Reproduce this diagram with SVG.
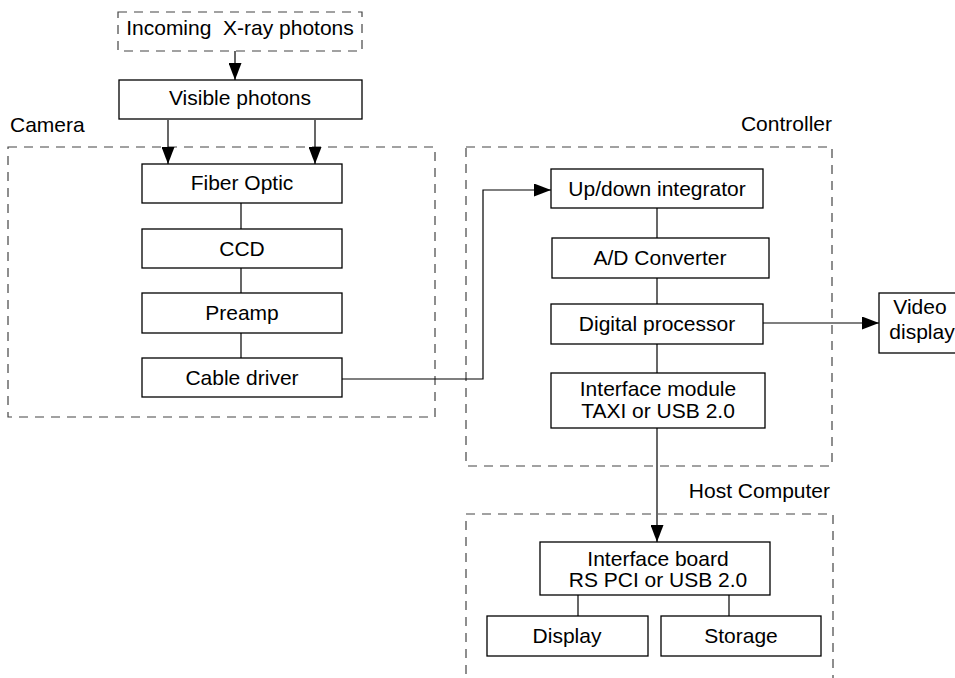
<svg xmlns="http://www.w3.org/2000/svg" width="955" height="678" viewBox="0 0 955 678">
<style>
  .box { fill: #fff; stroke: #000; stroke-width: 1.3; }
  .grp { fill: none; stroke: #444; stroke-width: 1.2; stroke-dasharray: 9 7; }
  .t { font-family: "Liberation Sans", Arial, sans-serif; font-size: 21px; fill: #000; text-anchor: middle; }
  .lbl { font-family: "Liberation Sans", Arial, sans-serif; font-size: 21px; fill: #000; }
  .c { fill: none; stroke: #000; stroke-width: 1.2; }
  .ca { fill: none; stroke: #000; stroke-width: 1.2; marker-end: url(#ah); }
</style>
<defs>
  <marker id="ah" markerWidth="17" markerHeight="13" refX="17" refY="6.5" orient="auto" markerUnits="userSpaceOnUse">
    <path d="M0,0 L17,6.5 L0,13 Z" fill="#000"/>
  </marker>
</defs>
<rect width="955" height="678" fill="#fff"/>

<g id="groups">
  <rect id="camera-group" class="grp" x="8" y="147" width="427" height="270"/>
  <text class="lbl" x="10" y="132">Camera</text>
  <rect id="controller-group" class="grp" x="466" y="147" width="366" height="319"/>
  <text class="lbl" x="832" y="131" text-anchor="end">Controller</text>
  <path id="host-group" class="grp" d="M466,690 L466,514 L833,514 L833,690"/>
  <text class="lbl" x="830" y="498" text-anchor="end">Host Computer</text>
</g>

<g id="connectors">
  <path class="ca" d="M235,51 L235,80"/>
  <path class="ca" d="M168,120 L168,164"/>
  <path class="ca" d="M315,120 L315,164"/>
  <path class="c" d="M241,203 L241,229"/>
  <path class="c" d="M241,268 L241,293"/>
  <path class="c" d="M241,333 L241,358"/>
  <path class="ca" d="M342,379 L483,379 L483,190 L551,190"/>
  <path class="c" d="M657,208 L657,238"/>
  <path class="c" d="M657,278 L657,304"/>
  <path class="c" d="M657,344 L657,373"/>
  <path class="ca" d="M763,323 L879,323"/>
  <path class="ca" d="M657,428 L657,542"/>
  <path class="c" d="M578,595 L578,616"/>
  <path class="c" d="M729,595 L729,616"/>
</g>

<g id="incoming">
  <rect class="grp" x="118" y="12" width="244" height="39"/>
  <text class="t" x="240" y="35" xml:space="preserve">Incoming  X-ray photons</text>
</g>
<g id="visible">
  <rect class="box" x="119" y="80" width="243" height="39"/>
  <text class="t" x="240" y="105">Visible photons</text>
</g>
<g id="fiber">
  <rect class="box" x="142" y="164" width="200" height="39"/>
  <text class="t" x="242" y="190">Fiber Optic</text>
</g>
<g id="ccd">
  <rect class="box" x="142" y="229" width="200" height="39"/>
  <text class="t" x="242" y="256">CCD</text>
</g>
<g id="preamp">
  <rect class="box" x="142" y="293" width="200" height="40"/>
  <text class="t" x="242" y="320">Preamp</text>
</g>
<g id="cable">
  <rect class="box" x="142" y="358" width="200" height="39"/>
  <text class="t" x="242" y="385">Cable driver</text>
</g>
<g id="updown">
  <rect class="box" x="551" y="169" width="212" height="39"/>
  <text class="t" x="657" y="196">Up/down integrator</text>
</g>
<g id="adc">
  <rect class="box" x="552" y="238" width="217" height="40"/>
  <text class="t" x="660" y="265">A/D Converter</text>
</g>
<g id="dsp">
  <rect class="box" x="551" y="304" width="212" height="40"/>
  <text class="t" x="657" y="331">Digital processor</text>
</g>
<g id="ifmodule">
  <rect class="box" x="551" y="373" width="214" height="55"/>
  <text class="t" x="658" y="396">Interface module</text>
  <text class="t" x="658" y="418">TAXI or USB 2.0</text>
</g>
<g id="video">
  <rect class="box" x="879" y="293" width="90" height="60"/>
  <text class="t" x="920" y="314">Video</text>
  <text class="t" x="922" y="339">display</text>
</g>
<g id="ifboard">
  <rect class="box" x="540" y="542" width="230" height="53"/>
  <text class="t" x="658" y="566">Interface board</text>
  <text class="t" x="658" y="587">RS PCI or USB 2.0</text>
</g>
<g id="display">
  <rect class="box" x="487" y="616" width="161" height="40"/>
  <text class="t" x="567" y="643">Display</text>
</g>
<g id="storage">
  <rect class="box" x="661" y="616" width="160" height="40"/>
  <text class="t" x="741" y="643">Storage</text>
</g>
</svg>
